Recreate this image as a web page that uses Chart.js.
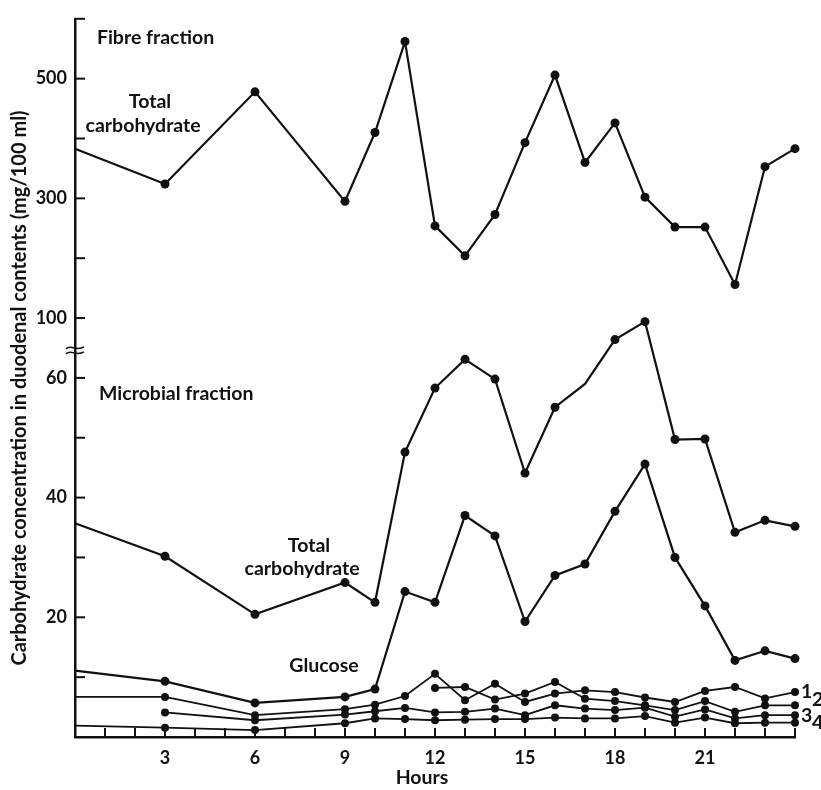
<!DOCTYPE html>
<html>
<head>
<meta charset="utf-8">
<script src="https://cdn.jsdelivr.net/npm/chart.js@4/dist/chart.umd.min.js"></script>
<style>
  html, body { margin: 0; padding: 0; background: #fff; }
</style>
</head>
<body>
<canvas id="chart" width="821" height="790"></canvas>
<script>
'use strict';

// ---- datos ----
const HOURS = [0, 3, 6, 9, 10, 11, 12, 13, 14, 15, 16, 17, 18, 19, 20, 21, 22, 23, 24];

// fibre fraction, mg/100 ml (upper scale)
const FIBRE_TOTAL = [383, 324, 478, 295, 410, 562, 254, 204, 273, 393, 506, 360, 426, 302, 252, 252, 156, 353, 383];

// microbial fraction, mg/100 ml (lower scale)
const MICRO_TOTAL = [35.7, 30.2, 20.5, 25.8, 22.5, 47.6, 58.3, 63.1, 59.8, 44.1, 55.1, 59.0, 66.4, 69.4, 49.7, 49.8, 34.2, 36.2, 35.2];
const GLUCOSE     = [11.1, 9.3, 5.7, 6.7, 8.0, 24.3, 22.5, 37.0, 33.6, 19.3, 27.0, 28.9, 37.7, 45.6, 30.0, 21.9, 12.8, 14.4, 13.1];
const SERIES_1    = [6.7, 6.7, 3.65, 4.65, 5.4, 6.85, 10.55, 6.15, 8.9, 5.85, 7.25, 7.8, 7.5, 6.6, 5.85, 7.7, 8.35, 6.45, 7.5];
const SERIES_2    = [null, null, null, null, null, null, 8.2, 8.35, 6.25, 7.25, 9.2, 6.4, 6.0, 5.3, 4.5, 6.0, 4.2, 5.3, 5.3];
const SERIES_3    = [null, 4.1, 2.8, 3.75, 4.3, 4.85, 4.1, 4.2, 4.75, 3.65, 5.3, 4.75, 4.5, 4.9, 3.4, 4.6, 3.1, 3.65, 3.65];
const SERIES_4    = [1.9, 1.55, 1.15, 2.3, 3.1, 3.0, 2.8, 2.9, 3.0, 3.0, 3.25, 3.1, 3.1, 3.5, 2.4, 3.25, 2.3, 2.4, 2.4];

const X_LABELS      = [3, 6, 9, 12, 15, 18, 21];
const Y_LABELS_LOW  = [20, 40, 60];
const Y_LABELS_HIGH = [100, 300, 500];

// horas sin marcador (la línea sale del eje / quiebre sin punto)
const NO_MARK_FIBRE = [0];
const NO_MARK_MICRO = [0, 17];
const NO_MARK_LOW   = [0];

const INK  = '#111';
const FONT = 'Lato, "DejaVu Sans", sans-serif';

// eje compartido: 0–60 escala inferior, 100–500 comprimida x10 encima del corte
const toAxis   = v => 70 + (v - 100) / 10;
const fromAxis = a => 100 + (a - 70) * 10;

function serie(values, conv, noMark, radius, width) {
  return {
    data: HOURS.map((h, i) => ({ x: h, y: values[i] == null ? null : conv(values[i]) })),
    borderColor: INK,
    backgroundColor: INK,
    borderWidth: width,
    pointRadius: ctx => noMark.includes(HOURS[ctx.dataIndex]) ? 0 : radius,
    pointHoverRadius: 0,
    pointBorderWidth: 0,
    tension: 0,
    clip: false,
    spanGaps: false
  };
}

const same = v => v;

// ----------------------------------------------------------------
// Marcas interiores, corte del eje y textos
// ----------------------------------------------------------------
const decor = {
  id: 'decor',
  afterDraw(chart) {
    const { ctx, scales: { x, y } } = chart;
    const seg = (x1, y1, x2, y2) => { ctx.beginPath(); ctx.moveTo(x1, y1); ctx.lineTo(x2, y2); ctx.stroke(); };

    ctx.save();
    ctx.strokeStyle = INK;
    ctx.lineWidth = 2;
    ctx.lineCap = 'butt';

    y.ticks.forEach(t => {
      if (t.value === 0) return;
      const py = y.getPixelForValue(t.value);
      seg(x.left, py, x.left + 10, py);
    });
    x.ticks.forEach(t => {
      if (t.value === 0) return;
      const px = x.getPixelForValue(t.value);
      seg(px, y.bottom, px, y.bottom - 9);
    });

    // ≈ sobre el eje
    const by = y.getPixelForValue(64.6);
    ctx.lineWidth = 1.6;
    [-2.5, 2.5].forEach(d => {
      ctx.beginPath();
      ctx.moveTo(x.left - 9, by + d + 1);
      ctx.bezierCurveTo(x.left - 4, by + d - 4, x.left + 1, by + d + 4, x.left + 9, by + d - 1);
      ctx.stroke();
    });

    ctx.fillStyle = INK;
    ctx.textBaseline = 'middle';
    ctx.font = 'bold 19.5px ' + FONT;
    const txt = (s, h, v, align) => {
      ctx.textAlign = align || 'center';
      ctx.fillText(s, x.getPixelForValue(h), y.getPixelForValue(v));
    };
    txt('Fibre fraction', 0.73, 116.8, 'left');
    txt('Total', 2.5, 106.2);
    txt('carbohydrate', 2.27, 102.2);
    txt('Microbial fraction', 0.8, 57.3, 'left');
    txt('Total', 7.8, 31.9);
    txt('carbohydrate', 7.57, 28.2);
    txt('Glucose', 8.3, 11.95);

    // números de las series pequeñas, al borde derecho
    const rx = x.getPixelForValue(24);
    ctx.textAlign = 'left';
    ctx.fillText('1', rx + 6, y.getPixelForValue(7.6));
    ctx.fillText('2', rx + 17, y.getPixelForValue(6.2));
    ctx.fillText('3', rx + 6, y.getPixelForValue(3.5));
    ctx.fillText('4', rx + 17, y.getPixelForValue(2.4));

    // títulos de ejes
    ctx.textAlign = 'center';
    ctx.fillText('Hours', 422, 778);
    ctx.translate(20, 388);
    ctx.rotate(-Math.PI / 2);
    ctx.font = 'bold 20px ' + FONT;
    ctx.fillText('Carbohydrate concentration in duodenal contents (mg/100 ml)', 0, 0);
    ctx.restore();
  }
};

Chart.defaults.font.family = FONT;
Chart.defaults.color = INK;

new Chart(document.getElementById('chart'), {
  type: 'line',
  data: {
    datasets: [
      serie(FIBRE_TOTAL, toAxis, NO_MARK_FIBRE, 4.5, 2.2),
      serie(MICRO_TOTAL, same, NO_MARK_MICRO, 4.5, 2.2),
      serie(GLUCOSE, same, NO_MARK_LOW, 4.5, 2.2),
      serie(SERIES_1, same, NO_MARK_LOW, 4, 1.8),
      serie(SERIES_2, same, NO_MARK_LOW, 4, 1.8),
      serie(SERIES_3, same, NO_MARK_LOW, 4, 1.8),
      serie(SERIES_4, same, NO_MARK_LOW, 4, 1.8)
    ]
  },
  options: {
    responsive: false,
    animation: false,
    devicePixelRatio: 1,
    layout: { padding: { top: 14, right: 26, left: 0, bottom: 0 } },
    plugins: {
      legend: { display: false },
      tooltip: { enabled: false }
    },
    scales: {
      x: {
        type: 'linear',
        min: 0,
        max: 24,
        afterFit: s => { s.height = 53; },
        border: { display: true, color: INK, width: 2.5 },
        grid: { display: false, drawTicks: false },
        ticks: {
          stepSize: 1,
          autoSkip: false,
          maxRotation: 0,
          padding: 10,
          font: { size: 18, weight: 'bold' },
          callback: v => X_LABELS.includes(v) ? String(v) : ''
        }
      },
      y: {
        type: 'linear',
        min: 0,
        max: 120,
        afterFit: s => { s.width = 75; },
        border: { display: true, color: INK, width: 2.5 },
        grid: { display: false, drawTicks: false },
        ticks: {
          stepSize: 10,
          autoSkip: false,
          padding: 8,
          font: { size: 18, weight: 'bold' },
          callback: v => {
            if (v <= 60) return Y_LABELS_LOW.includes(v) ? String(v) : '';
            const real = fromAxis(v);
            return Y_LABELS_HIGH.includes(real) ? String(real) : '';
          }
        }
      }
    }
  },
  plugins: [decor]
});
</script>
</body>
</html>
